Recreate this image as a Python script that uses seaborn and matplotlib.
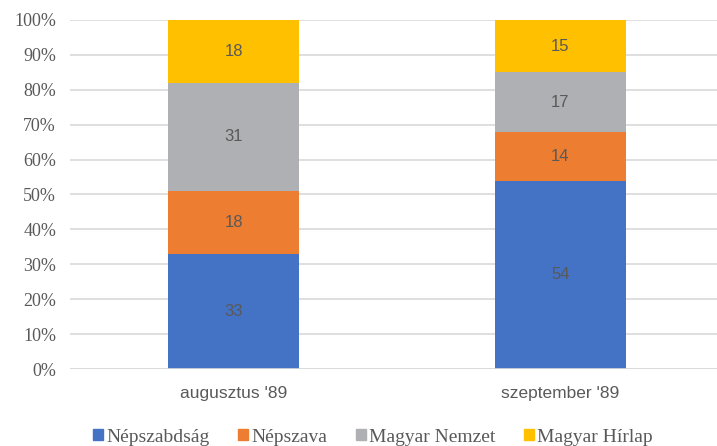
import numpy as np
import seaborn as sns
import matplotlib.pyplot as plt
from matplotlib.ticker import PercentFormatter
from matplotlib.patches import Patch

# data
categories = ["augusztus '89", "szeptember '89"]
series_names = ['Népszabdság', 'Népszava', 'Magyar Nemzet', 'Magyar Hírlap']
nepszabadsag = [33, 54]
nepszava = [18, 14]
magyar_nemzet = [31, 17]
magyar_hirlap = [18, 15]
colors = ['#4472C4', '#ED7D31', '#AFB0B3', '#FFC000']

sns.set_style('white')
plt.rcParams['font.family'] = ['Liberation Serif', 'DejaVu Serif']

fig = plt.figure(figsize=(7.17, 4.46), dpi=100)
ax = fig.add_axes([70/717, 77/446, 654/717, 349/446])

series = [nepszabadsag, nepszava, magyar_nemzet, magyar_hirlap]
bottom = np.zeros(len(categories))
for name, vals, col in zip(series_names, series, colors):
    sns.barplot(x=categories, y=vals, bottom=bottom, color=col, width=0.4,
                ax=ax, zorder=3, linewidth=0, saturation=1)
    for i, v in enumerate(vals):
        ax.text(i, bottom[i] + v / 2, str(v), ha='center', va='center',
                fontsize=12, color='#595959', family='Liberation Sans')
    bottom = bottom + np.array(vals)

ax.set_ylim(0, 100)
ax.set_xlim(-0.5, 1.5)
ax.set_yticks(np.arange(0, 101, 10))
ax.yaxis.set_major_formatter(PercentFormatter(decimals=0))
ax.grid(axis='y', color='#D9D9D9', linewidth=1.2, zorder=0)
for s in ax.spines.values():
    s.set_visible(False)
ax.axhline(0, color='#D9D9D9', linewidth=1.2, zorder=4)
ax.tick_params(axis='y', length=0, labelsize=13, labelcolor='#595959', pad=10)
ax.tick_params(axis='x', length=0, labelsize=12.5, labelcolor='#595959', pad=12)
for lab in ax.get_xticklabels():
    lab.set_family('Liberation Sans')
ax.set_xlabel('')
ax.set_ylabel('')

handles = [Patch(color=c, label=n) for n, c in zip(series_names, colors)]
fig.legend(handles=handles, loc='center', bbox_to_anchor=(373/717, 1 - 437/446),
           ncol=4, frameon=False, fontsize=14, labelcolor='#595959',
           handlelength=0.5, handleheight=0.5, handletextpad=0.15, columnspacing=1.5)

fig.savefig('out.png', dpi=100)
